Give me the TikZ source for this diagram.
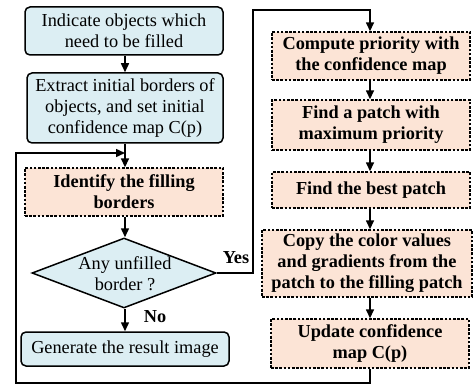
\documentclass[tikz,border=0pt]{standalone}
\usepackage{fontspec}
\setmainfont{Liberation Serif}
\usetikzlibrary{shapes.geometric,arrows.meta}

\definecolor{stepblue}{RGB}{220,238,243}
\definecolor{steppeach}{RGB}{252,228,214}

\tikzset{
  txt/.style={font=\fontsize{18.3}{21}\selectfont},
  bluebox/.style={draw, line width=1.5pt, rounded corners=5pt, fill=stepblue,
    align=center, inner sep=0pt, txt},
  peachbox/.style={draw, line width=1.4pt, dash pattern=on 2.6pt off 1.6pt,
    fill=steppeach, align=center, inner sep=0pt, txt, font=\fontsize{18.3}{21}\selectfont\bfseries},
  flow/.style={line width=1.5pt, -{Triangle[length=9pt,width=8pt]}},
  plain/.style={line width=1.5pt},
  lbl/.style={font=\fontsize{18.3}{21}\selectfont\bfseries, inner sep=0pt}
}

\begin{document}
\begin{tikzpicture}[x=1pt,y=-1pt]
\useasboundingbox (0,0) rectangle (473,387);

% left column
\node[bluebox, minimum width=198pt, minimum height=48pt] (b1) at (124,31)
  {Indicate objects which\\need to be filled};
\node[bluebox, minimum width=196pt, minimum height=70pt] (b2) at (125,108)
  {Extract initial borders of\\objects, and set initial\\confidence map C(p)};
\node[peachbox, minimum width=198pt, minimum height=48pt] (b3) at (124,192)
  {Identify the filling\\borders};
\node[diamond, draw, line width=1.5pt, fill=stepblue, minimum width=184pt,
  minimum height=70pt, inner sep=0pt] (dec) at (124,273) {};
\node[txt, align=center, inner sep=0pt] (dectxt) at (125,274) {Any unfilled\\border ?};
\node[bluebox, minimum width=208pt, minimum height=34pt] (res) at (125,349)
  {Generate the result image};

% right column
\node[peachbox, minimum width=198pt, minimum height=48pt] (r1) at (371,56)
  {Compute priority with\\the confidence map};
\node[peachbox, minimum width=198pt, minimum height=50pt] (r2) at (371,125)
  {Find a patch with\\maximum priority};
\node[peachbox, minimum width=198pt, minimum height=36pt] (r3) at (371,190)
  {Find the best patch};
\node[peachbox, minimum width=210pt, minimum height=67pt] (r4) at (367,263.5)
  {Copy the color values\\and gradients from the\\patch to the filling patch};
\node[peachbox, minimum width=198pt, minimum height=49pt] (r5) at (370,343.5)
  {Update confidence\\map C(p)};

% connectors in the left column
\draw[flow] (b1.south -| 125,0) -- (b2.north -| 125,0);
\draw[flow] (b2.south -| 125,0) -- (b3.north -| 125,0);
\draw[flow] (b3.south -| 125,0) -- (dec.north -| 125,0);
\draw[flow] (dec.south -| 125,0) -- (res.north -| 125,0);

% "Yes" branch into the right column
\coordinate (yesturn) at (253,273);
\coordinate (yestop) at (370,10);
\draw[flow] (dec.east) -- (yesturn) |- (yestop) -- (r1.north -| yestop);

% connectors in the right column
\draw[flow] (r1.south -| 370,0) -- (r2.north -| 370,0);
\draw[flow] (r2.south -| 370,0) -- (r3.north -| 370,0);
\draw[flow] (r3.south -| 370,0) -- (r4.north -| 370,0);
\draw[flow] (r4.south -| 370,0) -- (r5.north -| 370,0);

% loop back to the border identification
\coordinate (loopbot) at (370,383);
\coordinate (loopleft) at (16,153);
\coordinate (loopin) at (125,153);
\draw[flow] (r5.south -| 370,0) -- (loopbot) -| (loopleft) -- (loopin);

% branch labels
\node[lbl] (yes) at (236,258) {Yes};
\node[lbl] (no) at (155,317) {No};
\end{tikzpicture}
\end{document}
